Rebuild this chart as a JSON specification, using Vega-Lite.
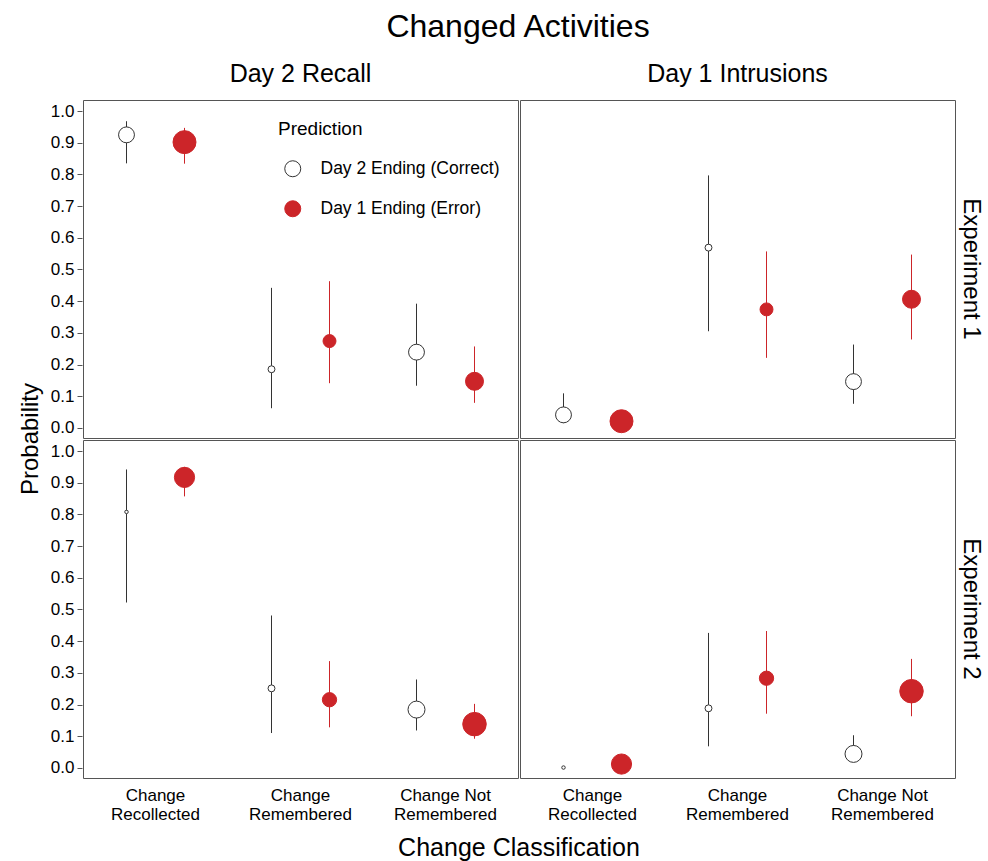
{
  "$schema": "https://vega.github.io/schema/vega-lite/v6.json",
  "padding": {"left": 18, "top": 11, "right": 3, "bottom": 0},
  "background": "white",
  "title": {"text": "Changed Activities", "fontSize": 32, "fontWeight": "normal", "color": "#000000", "anchor": "middle", "offset": 18, "dx": 17},
  "data": {"values": [
    {"experiment": "Experiment 1", "measure": "Day 2 Recall", "classification": "Change Recollected", "prediction": "Day 2 Ending (Correct)", "p": 0.925, "lo": 0.835, "hi": 0.968, "n": 21},
    {"experiment": "Experiment 1", "measure": "Day 2 Recall", "classification": "Change Recollected", "prediction": "Day 1 Ending (Error)", "p": 0.902, "lo": 0.834, "hi": 0.947, "n": 44},
    {"experiment": "Experiment 1", "measure": "Day 2 Recall", "classification": "Change Remembered", "prediction": "Day 2 Ending (Correct)", "p": 0.185, "lo": 0.062, "hi": 0.442, "n": 4},
    {"experiment": "Experiment 1", "measure": "Day 2 Recall", "classification": "Change Remembered", "prediction": "Day 1 Ending (Error)", "p": 0.274, "lo": 0.141, "hi": 0.463, "n": 14},
    {"experiment": "Experiment 1", "measure": "Day 2 Recall", "classification": "Change Not Remembered", "prediction": "Day 2 Ending (Correct)", "p": 0.239, "lo": 0.133, "hi": 0.392, "n": 21},
    {"experiment": "Experiment 1", "measure": "Day 2 Recall", "classification": "Change Not Remembered", "prediction": "Day 1 Ending (Error)", "p": 0.147, "lo": 0.079, "hi": 0.257, "n": 27},
    {"experiment": "Experiment 1", "measure": "Day 1 Intrusions", "classification": "Change Recollected", "prediction": "Day 2 Ending (Correct)", "p": 0.041, "lo": 0.015, "hi": 0.109, "n": 21},
    {"experiment": "Experiment 1", "measure": "Day 1 Intrusions", "classification": "Change Recollected", "prediction": "Day 1 Ending (Error)", "p": 0.021, "lo": 0.005, "hi": 0.05, "n": 44},
    {"experiment": "Experiment 1", "measure": "Day 1 Intrusions", "classification": "Change Remembered", "prediction": "Day 2 Ending (Correct)", "p": 0.569, "lo": 0.305, "hi": 0.797, "n": 4},
    {"experiment": "Experiment 1", "measure": "Day 1 Intrusions", "classification": "Change Remembered", "prediction": "Day 1 Ending (Error)", "p": 0.374, "lo": 0.221, "hi": 0.557, "n": 14},
    {"experiment": "Experiment 1", "measure": "Day 1 Intrusions", "classification": "Change Not Remembered", "prediction": "Day 2 Ending (Correct)", "p": 0.146, "lo": 0.076, "hi": 0.263, "n": 21},
    {"experiment": "Experiment 1", "measure": "Day 1 Intrusions", "classification": "Change Not Remembered", "prediction": "Day 1 Ending (Error)", "p": 0.406, "lo": 0.279, "hi": 0.547, "n": 27},
    {"experiment": "Experiment 2", "measure": "Day 2 Recall", "classification": "Change Recollected", "prediction": "Day 2 Ending (Correct)", "p": 0.808, "lo": 0.522, "hi": 0.942, "n": 1},
    {"experiment": "Experiment 2", "measure": "Day 2 Recall", "classification": "Change Recollected", "prediction": "Day 1 Ending (Error)", "p": 0.917, "lo": 0.857, "hi": 0.95, "n": 34},
    {"experiment": "Experiment 2", "measure": "Day 2 Recall", "classification": "Change Remembered", "prediction": "Day 2 Ending (Correct)", "p": 0.251, "lo": 0.11, "hi": 0.481, "n": 4},
    {"experiment": "Experiment 2", "measure": "Day 2 Recall", "classification": "Change Remembered", "prediction": "Day 1 Ending (Error)", "p": 0.215, "lo": 0.128, "hi": 0.337, "n": 17},
    {"experiment": "Experiment 2", "measure": "Day 2 Recall", "classification": "Change Not Remembered", "prediction": "Day 2 Ending (Correct)", "p": 0.184, "lo": 0.118, "hi": 0.279, "n": 24},
    {"experiment": "Experiment 2", "measure": "Day 2 Recall", "classification": "Change Not Remembered", "prediction": "Day 1 Ending (Error)", "p": 0.138, "lo": 0.092, "hi": 0.202, "n": 46},
    {"experiment": "Experiment 2", "measure": "Day 1 Intrusions", "classification": "Change Recollected", "prediction": "Day 2 Ending (Correct)", "p": 0.001, "lo": 0.0, "hi": 0.004, "n": 1},
    {"experiment": "Experiment 2", "measure": "Day 1 Intrusions", "classification": "Change Recollected", "prediction": "Day 1 Ending (Error)", "p": 0.012, "lo": 0.0, "hi": 0.04, "n": 34},
    {"experiment": "Experiment 2", "measure": "Day 1 Intrusions", "classification": "Change Remembered", "prediction": "Day 2 Ending (Correct)", "p": 0.188, "lo": 0.068, "hi": 0.426, "n": 4},
    {"experiment": "Experiment 2", "measure": "Day 1 Intrusions", "classification": "Change Remembered", "prediction": "Day 1 Ending (Error)", "p": 0.283, "lo": 0.171, "hi": 0.432, "n": 17},
    {"experiment": "Experiment 2", "measure": "Day 1 Intrusions", "classification": "Change Not Remembered", "prediction": "Day 2 Ending (Correct)", "p": 0.044, "lo": 0.02, "hi": 0.103, "n": 24},
    {"experiment": "Experiment 2", "measure": "Day 1 Intrusions", "classification": "Change Not Remembered", "prediction": "Day 1 Ending (Error)", "p": 0.242, "lo": 0.163, "hi": 0.344, "n": 46}
  ]},
  "facet": {
    "row": {"field": "experiment", "type": "nominal", "sort": ["Experiment 1", "Experiment 2"],
      "header": {"title": "Probability", "titleOrient": "left", "labelOrient": "right", "labelAngle": 90, "labelFontSize": 24, "titleFontSize": 24, "titleFontWeight": "normal", "labelColor": "#000000", "titleColor": "#000000", "labelPadding": 3, "titlePadding": -3}},
    "column": {"field": "measure", "type": "nominal", "sort": ["Day 2 Recall", "Day 1 Intrusions"],
      "header": {"title": "Change Classification", "titleOrient": "bottom", "labelOrient": "top", "labelFontSize": 25, "titleFontSize": 25, "titleFontWeight": "normal", "labelColor": "#000000", "titleColor": "#000000", "labelPadding": 12, "titlePadding": 4}}
  },
  "spacing": {"row": 0, "column": 0},
  "spec": {
    "width": 435,
    "height": 338,
    "layer": [
      {
        "mark": {"type": "rule", "strokeWidth": 1},
        "encoding": {
          "x": {"field": "classification", "type": "nominal", "sort": ["Change Recollected", "Change Remembered", "Change Not Remembered"], "scale": {"paddingInner": 0, "paddingOuter": 0},
            "axis": {"title": null, "ticks": false, "domain": false, "labelAngle": 0, "labelFontSize": 17, "labelColor": "#000000", "labelLineHeight": 19, "labelPadding": 8,
              "labelExpr": "datum.label == 'Change Not Remembered' ? ['Change Not', 'Remembered'] : split(datum.label, ' ')"}},
          "xOffset": {"field": "prediction", "type": "nominal", "scale": {"type": "band", "domain": ["Day 2 Ending (Correct)", "Day 1 Ending (Error)"], "paddingInner": 0, "paddingOuter": 0.25}},
          "y": {"field": "lo", "type": "quantitative", "scale": {"domain": [-0.032, 1.035], "nice": false, "zero": false},
            "axis": {"title": null, "values": [0, 0.1, 0.2, 0.3, 0.4, 0.5, 0.6, 0.7, 0.8, 0.9, 1.0], "format": ".1f", "grid": false, "domain": false, "labelOverlap": false, "labelFlush": false, "tickSize": 5, "tickColor": "#555555", "labelFontSize": 17, "labelColor": "#000000", "labelPadding": 3}},
          "y2": {"field": "hi"},
          "stroke": {"field": "prediction", "type": "nominal", "title": "Prediction", "scale": {"domain": ["Day 2 Ending (Correct)", "Day 1 Ending (Error)"], "range": ["#333333", "#cc2529"]}}
        }
      },
      {
        "mark": {"type": "circle", "opacity": 1, "strokeWidth": 1},
        "encoding": {
          "x": {"field": "classification", "type": "nominal", "sort": ["Change Recollected", "Change Remembered", "Change Not Remembered"]},
          "xOffset": {"field": "prediction", "type": "nominal"},
          "y": {"field": "p", "type": "quantitative",
            "axis": {"title": null, "values": [0, 0.1, 0.2, 0.3, 0.4, 0.5, 0.6, 0.7, 0.8, 0.9, 1.0], "format": ".1f", "grid": false, "domain": false, "labelOverlap": false, "labelFlush": false, "tickSize": 5, "tickColor": "#555555", "labelFontSize": 17, "labelColor": "#000000", "labelPadding": 3}},
          "fill": {"field": "prediction", "type": "nominal", "title": "Prediction", "scale": {"domain": ["Day 2 Ending (Correct)", "Day 1 Ending (Error)"], "range": ["#ffffff", "#cc2529"]}},
          "stroke": {"field": "prediction", "type": "nominal", "title": "Prediction"},
          "size": {"field": "n", "type": "quantitative", "scale": {"domain": [0, 50], "range": [0, 600]}, "legend": null}
        }
      }
    ]
  },
  "config": {
    "font": "Liberation Sans",
    "view": {"stroke": "#555555", "strokeWidth": 1},
    "axisY": {"labelOverlap": false, "labelFlush": false},
    "axis": {"labelOverlap": false},
    "legend": {
      "orient": "none", "legendX": 195, "legendY": 20,
      "titleFontSize": 19, "titleFontWeight": "normal", "titleColor": "#000000", "titlePadding": 21,
      "labelFontSize": 17.5, "labelColor": "#000000", "labelOffset": 19, "labelLimit": 0,
      "symbolSize": 256, "symbolStrokeWidth": 1, "rowPadding": 19, "symbolType": "circle", "symbolOffset": 6
    }
  }
}
